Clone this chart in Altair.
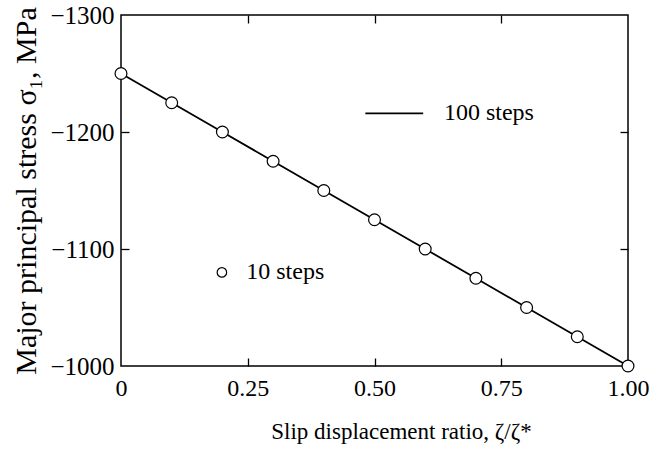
import altair as alt
import pandas as pd

# data
ratio = [0.0, 0.1, 0.2, 0.3, 0.4, 0.5, 0.6, 0.7, 0.8, 0.9, 1.0]
stress_10 = [-1250, -1225, -1200, -1175, -1150, -1125, -1100, -1075, -1050, -1025, -1000]
stress_100 = [-1250, -1225, -1200, -1175, -1150, -1125, -1100, -1075, -1050, -1025, -1000]

legend_line_x = [0.482, 0.596]
legend_line_y = [-1216, -1216]
legend_labels = ["100 steps", "10 steps"]
legend_text_x = [0.637, 0.247]
legend_text_y = [-1216, -1080]
legend_marker_x = [0.199]
legend_marker_y = [-1080]

FONT = "Liberation Serif"
XDOM = [0, 1]
YDOM = [-1300, -1000]
TICK = 8

df_line = pd.DataFrame({"x": ratio, "y": stress_100})
df_pts = pd.DataFrame({"x": ratio, "y": stress_10})
df_leg_line = pd.DataFrame({"x": legend_line_x, "y": legend_line_y})
df_leg_text = pd.DataFrame({"x": legend_text_x, "y": legend_text_y, "t": legend_labels})
df_leg_pt = pd.DataFrame({"x": legend_marker_x, "y": legend_marker_y})

xscale = alt.Scale(domain=XDOM, nice=False, zero=False)
yscale = alt.Scale(domain=YDOM, nice=False, zero=False, reverse=True)

xticks = [0, 0.25, 0.5, 0.75, 1.0]
yticks = [-1300, -1200, -1100, -1000]


def tick_axis(orient, values):
    return alt.Axis(orient=orient, values=values, labels=False, title=None,
                    domain=False, grid=False, ticks=True, tickSize=TICK,
                    offset=-TICK, tickColor="black", tickWidth=1.3)


line = alt.Chart(df_line).mark_line(color="black", strokeWidth=1.8).encode(
    x=alt.X("x:Q", scale=xscale,
            axis=alt.Axis(orient="bottom", values=xticks, ticks=False, domain=False, grid=False,
                          labelFlush=False,
                          labelExpr="datum.value == 0 ? '0' : format(datum.value, '.2f')",
                          labelFont=FONT, labelFontSize=24, labelColor="black", labelPadding=10,
                          title="Slip displacement ratio, ζ/ζ*", titleFont=FONT, titleFontSize=23,
                          titleFontWeight="normal", titleColor="black", titlePadding=20,
                          titleX=280)),
    y=alt.Y("y:Q", scale=yscale,
            axis=alt.Axis(orient="left", values=yticks, ticks=False, domain=False, grid=False,
                          format="d", labelFlush=False,
                          labelFont=FONT, labelFontSize=25, labelColor="black", labelPadding=7,
                          title="Major principal stress σ₁, MPa", titleFont=FONT, titleFontSize=30,
                          titleFontWeight="normal", titleColor="black", titlePadding=8)),
)

pts = alt.Chart(df_pts).mark_point(shape="circle", filled=True, fill="white", stroke="black",
                                   strokeWidth=1.2, size=140, opacity=1).encode(
    x=alt.X("x:Q", scale=xscale, axis=tick_axis("bottom", [0.25, 0.5, 0.75])),
    y=alt.Y("y:Q", scale=yscale, axis=tick_axis("left", [-1200, -1100])),
)

leg_line = alt.Chart(df_leg_line).mark_line(color="black", strokeWidth=1.8).encode(
    x=alt.X("x:Q", scale=xscale, axis=tick_axis("top", [0.25, 0.5, 0.75])),
    y=alt.Y("y:Q", scale=yscale, axis=tick_axis("right", [-1200, -1100])),
)

leg_pt = alt.Chart(df_leg_pt).mark_point(shape="circle", filled=True, fill="white", stroke="black",
                                         strokeWidth=1.2, size=90, opacity=1).encode(
    x=alt.X("x:Q", scale=xscale, axis=None),
    y=alt.Y("y:Q", scale=yscale, axis=None),
)

leg_text = alt.Chart(df_leg_text).mark_text(font=FONT, fontSize=24, align="left",
                                            baseline="middle", color="black").encode(
    x=alt.X("x:Q", scale=xscale, axis=None),
    y=alt.Y("y:Q", scale=yscale, axis=None),
    text="t:N",
)

chart = alt.layer(line, pts, leg_line, leg_pt, leg_text).resolve_axis(
    x="independent", y="independent"
).properties(
    width=507, height=351,
    autosize=alt.AutoSizeParams(type="none"),
    padding={"left": 121, "top": 15, "right": 30, "bottom": 88},
    background="white",
).configure_view(stroke="black", strokeWidth=1.5)

chart.save("out.html", embed_options={"renderer": "svg", "actions": False})
